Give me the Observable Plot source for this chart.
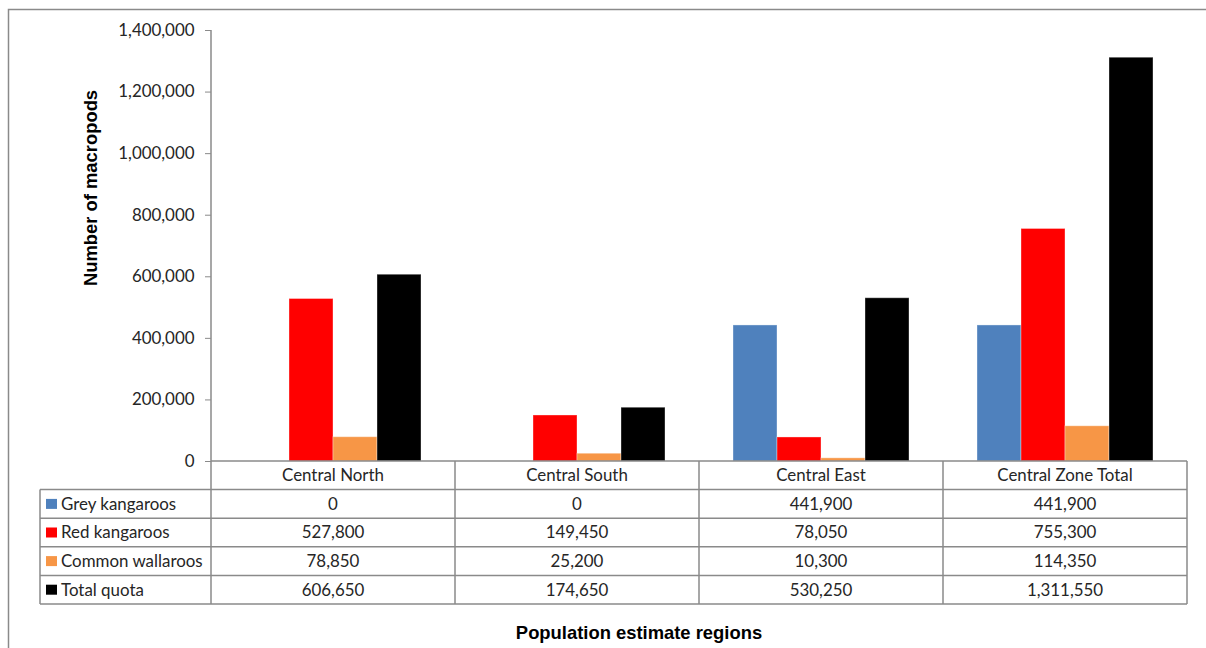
<!DOCTYPE html>
<html>
<head>
<meta charset="utf-8">
<script src="https://cdn.jsdelivr.net/npm/d3@7"></script>
<script src="https://cdn.jsdelivr.net/npm/@observablehq/plot@0.6"></script>
<style>
  html, body { margin: 0; padding: 0; background: #fff; }
  #chart { width: 1206px; height: 648px; }
</style>
</head>
<body>
<div id="chart"></div>
<script>
// Regions (columns) and species series
const regions = ["Central North", "Central South", "Central East", "Central Zone Total"];
const series = ["Grey kangaroos", "Red kangaroos", "Common wallaroos", "Total quota"];

// Quota values per region, one array per series
const greyKangaroos   = [0, 0, 441900, 441900];
const redKangaroos    = [527800, 149450, 78050, 755300];
const commonWallaroos = [78850, 25200, 10300, 114350];
const totalQuota      = [606650, 174650, 530250, 1311550];

const seriesColors = ["#4F81BD", "#FF0000", "#F79646", "#000000"];
const yTicks = [0, 200000, 400000, 600000, 800000, 1000000, 1200000, 1400000];
const yTitle = "Number of macropods";
const xTitle = "Population estimate regions";

const seriesValues = [greyKangaroos, redKangaroos, commonWallaroos, totalQuota];
const rows = series.flatMap((s, i) =>
  regions.map((r, j) => ({ region: r, series: s, value: seriesValues[i][j] }))
);

const fmt = d3.format(",");
const lineColor = "#8a8a8a";
const textColor = "#262626";
const bodyFont = "Lato, 'Open Sans', sans-serif";
const bodySize = 16.9;

const plot = Plot.plot({
  width: 1206,
  height: 648,
  marginLeft: 209,
  marginRight: 18,
  marginTop: 30,
  marginBottom: 187,
  style: { fontFamily: bodyFont, fontSize: bodySize + "px", color: textColor, background: "#fff" },
  fx: { domain: regions, padding: 0, axis: null },
  x: { domain: series, paddingInner: 0, paddingOuter: 0.766, axis: null },
  y: { domain: [0, 1400000] },
  color: { domain: series, range: seriesColors },
  marks: [
    Plot.barY(rows, {
      fx: "region", x: "series", y: "value", fill: "series",
      stroke: "#fff", strokeOpacity: 0.35, strokeWidth: 1
    }),
    Plot.axisY({
      ticks: yTicks, tickFormat: fmt, tickSize: 6, tickPadding: 11,
      stroke: lineColor, fill: textColor, label: null, fontSize: bodySize
    })
  ]
});

const svg = d3.select(plot);
const fx = plot.scale("fx");
const y = plot.scale("y");
const y0 = y.apply(0);
const yTop = y.apply(1400000);
const colLeft = regions.map(r => fx.apply(r));
const colW = fx.bandwidth;
const colEdges = [...colLeft, colLeft[colLeft.length - 1] + colW];
const tableLeft = 40;
const rowH = 28.6;
const tableRight = colEdges[colEdges.length - 1];
const tableBottom = y0 + rowH * (series.length + 1);

const g = svg.append("g")
  .attr("font-family", bodyFont).attr("font-size", bodySize)
  .attr("fill", textColor).attr("text-anchor", "start");

// outer chart border
g.append("path")
  .attr("d", `M8.5,${648}V9.5H1206`)
  .attr("fill", "none").attr("stroke", lineColor).attr("stroke-width", 1.5);

// y axis line
g.append("line")
  .attr("x1", colEdges[0]).attr("x2", colEdges[0])
  .attr("y1", yTop).attr("y2", y0)
  .attr("stroke", lineColor).attr("stroke-width", 1.5);

// data table grid: horizontal rules
g.append("line")
  .attr("x1", colEdges[0]).attr("x2", tableRight)
  .attr("y1", y0).attr("y2", y0)
  .attr("stroke", lineColor).attr("stroke-width", 1.5);
for (let i = 1; i <= series.length + 1; i++) {
  const yy = y0 + rowH * i;
  g.append("line")
    .attr("x1", tableLeft).attr("x2", tableRight)
    .attr("y1", yy).attr("y2", yy)
    .attr("stroke", lineColor).attr("stroke-width", 1.5);
}
// vertical rules
g.append("line")
  .attr("x1", tableLeft).attr("x2", tableLeft)
  .attr("y1", y0 + rowH).attr("y2", tableBottom)
  .attr("stroke", lineColor).attr("stroke-width", 1.5);
colEdges.forEach(x => {
  g.append("line")
    .attr("x1", x).attr("x2", x)
    .attr("y1", y0).attr("y2", tableBottom)
    .attr("stroke", lineColor).attr("stroke-width", 1.5);
});

// header row: region names
regions.forEach((r, j) => {
  g.append("text")
    .attr("x", colLeft[j] + colW / 2).attr("y", y0 + rowH / 2)
    .attr("text-anchor", "middle").attr("dy", "0.35em")
    .text(r);
});

// series rows: legend key, label and values
series.forEach((s, i) => {
  const cy = y0 + rowH * (i + 1.5);
  g.append("rect")
    .attr("x", 46).attr("y", cy - 5).attr("width", 11).attr("height", 10)
    .attr("fill", seriesColors[i]);
  g.append("text")
    .attr("x", 61).attr("y", cy).attr("dy", "0.35em")
    .attr("text-anchor", "start")
    .text(s);
  regions.forEach((r, j) => {
    g.append("text")
      .attr("x", colLeft[j] + colW / 2).attr("y", cy)
      .attr("text-anchor", "middle").attr("dy", "0.35em")
      .text(fmt(seriesValues[i][j]));
  });
});

// axis titles
g.append("text")
  .attr("transform", `translate(97,188) rotate(-90)`)
  .attr("text-anchor", "middle")
  .attr("font-family", "'Liberation Sans', Arial, sans-serif")
  .attr("font-weight", "bold").attr("font-size", 18.4).attr("fill", "#000")
  .text(yTitle);
g.append("text")
  .attr("x", 639).attr("y", 639)
  .attr("text-anchor", "middle")
  .attr("font-family", "'Liberation Sans', Arial, sans-serif")
  .attr("font-weight", "bold").attr("font-size", 18.4).attr("fill", "#000")
  .text(xTitle);

document.getElementById("chart").appendChild(plot);
</script>
</body>
</html>
